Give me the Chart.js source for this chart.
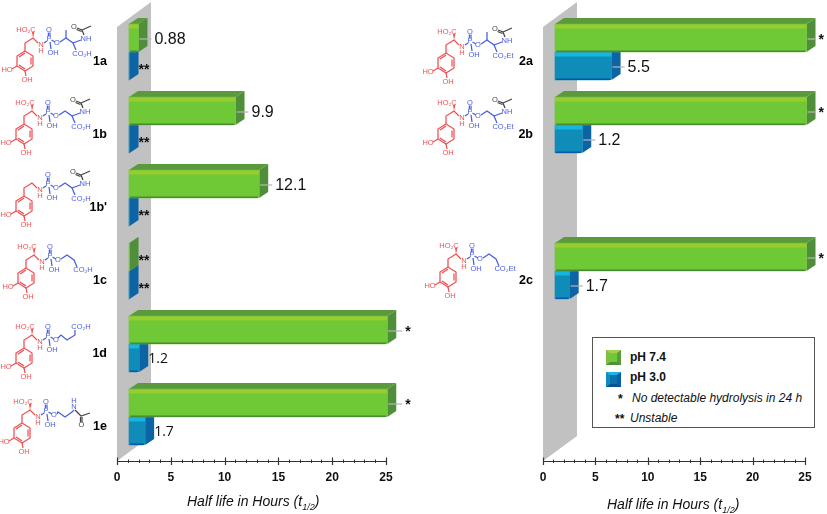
<!DOCTYPE html>
<html>
<head>
<meta charset="utf-8">
<script src="https://cdn.jsdelivr.net/npm/chart.js@4"></script>
<style>
    html, body { margin: 0; padding: 0; background: #fff; }
    #page { position: relative; width: 827px; height: 514px; overflow: hidden; font-family: "Liberation Sans", Arial, sans-serif; }
    canvas { position: absolute; left: 0; top: 0; }
    .axisTitle { position: absolute; font-style: italic; font-size: 14px; color: #111; white-space: nowrap; }
    .axisTitle sub { font-size: 9px; line-height: 0; }
    #legendBox { position: absolute; left: 592px; top: 337px; width: 221px; height: 89px; border: 1.5px solid #555; background: #fff; }
    .note { position: absolute; font-size: 12px; color: #111; white-space: nowrap; line-height: 14px; }
    .swatch { position: absolute; box-sizing: border-box; width: 15px; height: 15px; border-style: solid; border-width: 3px 4px 3px 4px; }
</style>
</head>
<body>
<div id="page">
    <canvas id="chartLeft" width="827" height="514"></canvas>
    <canvas id="chartRight" width="827" height="514"></canvas>

    <div class="axisTitle" style="left:187px; top:493px;">Half life in Hours (t<sub>1/2</sub>)</div>
    <div class="axisTitle" style="left:607px; top:496px;">Half life in Hours (t<sub>1/2</sub>)</div>

    <div id="legendBox"></div>
    <div class="swatch" style="left:606px; top:350px; background:#6fc836; border-color:#a5d24e #5c9c3c #4f9038 #7fbf45;"></div>
    <div class="swatch" style="left:606px; top:372px; background:#0b6fb0; border-color:#19b6e2 #0a5ea8 #07528f #0f8cb8;"></div>
    <div class="note" style="left:630px; top:350px; font-weight:bold;">pH 7.4</div>
    <div class="note" style="left:630px; top:370px; font-weight:bold;">pH 3.0</div>
    <div class="note" style="left:618px; top:392px; font-weight:bold;">*</div>
    <div class="note" style="left:632px; top:391px; font-style:italic;">No detectable hydrolysis in 24 h</div>
    <div class="note" style="left:615px; top:412px; font-weight:bold;">**</div>
    <div class="note" style="left:630px; top:411px; font-style:italic;">Unstable</div>
</div>

<script>
const compounds1 = ['1a', '1b', "1b'", '1c', '1d', '1e'];
const rows1 = [1, 2, 3, 4, 5, 6];
const ph74Bars1 = [0.88, 9.9, 12.1, 0.05, 24, 24];
const ph30Bars1 = [0.05, 0.05, 0.05, 0.05, 0.95, 1.5];
const ph74Labels1 = ['0.88', '9.9', '12.1', '**', '*', '*'];
const ph30Labels1 = ['**', '**', '**', '**', '1.2', '1.7'];

const compounds2 = ['2a', '2b', '2c'];
const rows2 = [1, 2, 4];
const ph74Bars2 = [24, 24, 24];
const ph30Bars2 = [5.4, 2.6, 1.4];
const ph74Labels2 = ['*', '*', '*'];
const ph30Labels2 = ['5.5', '1.2', '1.7'];

const seriesNames = ['pH 7.4', 'pH 3.0'];

// drawing of each molecule: where it sits and which tail it has
const molecules1 = [
    { dx: 0, dy: 0, tail: 'methylAcetamide', ester: 'CO\u2082H', acid: true },
    { dx: -1, dy: 73, tail: 'acetamide', ester: 'CO\u2082H', acid: true },
    { dx: -1, dy: 145, tail: 'acetamide', ester: 'CO\u2082H', acid: false },
    { dx: 1, dy: 217, tail: 'shortAcid', ester: 'CO\u2082H', acid: true },
    { dx: -1, dy: 297, tail: 'longAcid', ester: 'CO\u2082H', acid: true },
    { dx: -3, dy: 372, tail: 'ethylAcetamide', ester: '', acid: true }
];
const molecules2 = [
    { dx: 421, dy: 2, tail: 'methylAcetamide', ester: 'CO\u2082Et', acid: true },
    { dx: 421, dy: 73, tail: 'acetamide', ester: 'CO\u2082Et', acid: true },
    { dx: 423, dy: 216, tail: 'shortAcid', ester: 'CO\u2082Et', acid: true }
];

const RED = '#f04f52';
const BLUE = '#4a5de0';
const GREY = '#444444';

const GREEN_STYLE = { front: '#6fc836', strip: '#98cc30', top: '#5a9a3c', side: '#508f39', edge: '#4a8a36' };
const BLUE_STYLE = { front: '#0f8cb8', strip: '#15b6e2', top: '#0b6fb8', side: '#0d64a4', edge: '#0758a8' };

const DEPTH_X = 9;
const DEPTH_Y = 6;

function line(ctx, points, color) {
    ctx.strokeStyle = color;
    ctx.lineWidth = 1.25;
    ctx.beginPath();
    ctx.moveTo(points[0][0], points[0][1]);
    for (let i = 1; i < points.length; i++) {
        ctx.lineTo(points[i][0], points[i][1]);
    }
    ctx.stroke();
}

function polygon(ctx, points, color) {
    ctx.fillStyle = color;
    ctx.beginPath();
    ctx.moveTo(points[0][0], points[0][1]);
    for (let i = 1; i < points.length; i++) {
        ctx.lineTo(points[i][0], points[i][1]);
    }
    ctx.closePath();
    ctx.fill();
}

function atom(ctx, text, x, y, color) {
    ctx.fillStyle = color;
    ctx.font = '7.5px "Liberation Sans", Arial, sans-serif';
    ctx.textAlign = 'center';
    ctx.textBaseline = 'middle';
    ctx.fillText(text, x, y);
}

function drawAcetylFrom(ctx, nx, ny) {
    line(ctx, [[nx - 1, ny - 4], [82, 30], [91, 26]], GREY);
    line(ctx, [[82, 30], [77, 28]], GREY);
    line(ctx, [[81.5, 31.5], [76.5, 29.5]], GREY);
    atom(ctx, 'O', 74, 27, GREY);
}

function drawTail(ctx, molecule) {
    const tail = molecule.tail;
    if (tail == 'methylAcetamide' || tail == 'acetamide') {
        line(ctx, [[60, 42], [66, 38], [73, 43], [76, 50]], BLUE);
        line(ctx, [[73, 43], [81, 40]], BLUE);
        if (tail == 'methylAcetamide') {
            line(ctx, [[66, 38], [66, 30]], BLUE);
        }
        atom(ctx, 'NH', 86, 39, BLUE);
        atom(ctx, molecule.ester, 82, 54, BLUE);
        drawAcetylFrom(ctx, 85, 39);
    }
    else if (tail == 'shortAcid') {
        line(ctx, [[60, 42], [66, 38], [73, 43], [76, 50]], BLUE);
        atom(ctx, molecule.ester, 82, 53, BLUE);
    }
    else if (tail == 'longAcid') {
        line(ctx, [[59, 41], [62, 38], [68, 43], [76, 38], [76, 33]], BLUE);
        atom(ctx, molecule.ester, 82, 30, BLUE);
    }
    else if (tail == 'ethylAcetamide') {
        line(ctx, [[60, 42], [61, 40], [68, 45], [75, 40], [77, 38]], BLUE);
        atom(ctx, 'N', 77, 35, BLUE);
        atom(ctx, 'H', 77, 29, BLUE);
        line(ctx, [[78, 38], [84, 44], [93, 41]], GREY);
        line(ctx, [[83.5, 45], [83.5, 50]], GREY);
        line(ctx, [[85, 45], [85, 50]], GREY);
        atom(ctx, 'O', 84.5, 53, GREY);
    }
}

function drawMolecule(ctx, molecule) {
    ctx.save();
    ctx.translate(molecule.dx, molecule.dy);

    // catechol ring
    const ring = [[25, 51], [33, 56], [33, 66], [25, 71], [17, 66], [17, 56]];
    line(ctx, ring.concat([ring[0]]), RED);
    line(ctx, [[31, 57.5], [31, 64.5]], RED);
    line(ctx, [[25, 69], [19, 65]], RED);
    line(ctx, [[19, 57], [25, 53]], RED);
    line(ctx, [[17, 66], [12, 69]], RED);
    line(ctx, [[25, 71], [26, 76]], RED);
    atom(ctx, 'HO', 7, 70, RED);
    atom(ctx, 'OH', 27, 80, RED);

    // side chain up to the nitrogen
    line(ctx, [[25, 51], [25, 43], [33, 38], [38, 43]], RED);
    if (molecule.acid) {
        polygon(ctx, [[33, 38], [32, 32], [34.4, 32]], RED);
        atom(ctx, 'HO\u2082C', 26, 30, RED);
    }
    atom(ctx, 'N', 41, 45, RED);
    atom(ctx, 'H', 41, 51, RED);

    // phosphoramidate
    line(ctx, [[44, 43], [47, 41]], BLUE);
    line(ctx, [[48.4, 36], [48.4, 32.5]], BLUE);
    line(ctx, [[50, 36], [50, 32.5]], BLUE);
    line(ctx, [[50, 42], [51, 49]], BLUE);
    line(ctx, [[51.5, 40], [55, 42]], BLUE);
    atom(ctx, 'P', 49, 39, BLUE);
    atom(ctx, 'O', 49, 30, BLUE);
    atom(ctx, 'OH', 53, 53, BLUE);
    atom(ctx, 'O', 57, 43, BLUE);

    drawTail(ctx, molecule);
    ctx.restore();
}

function drawWall(chart) {
    const ctx = chart.ctx;
    const axis = chart.scales.x;
    const left = axis.left;
    const bottom = axis.top;
    const right = left + 34;
    polygon(ctx, [[left, 27], [right, 2], [right, bottom - 25], [left, bottom]], '#c1c1c1');
}

function drawAxisTicks(chart) {
    const ctx = chart.ctx;
    const axis = chart.scales.x;
    ctx.strokeStyle = '#333';
    for (let i = 0; i < axis.ticks.length; i++) {
        const px = Math.round(axis.getPixelForTick(i)) + 0.5;
        const size = axis.ticks[i].value % 5 == 0 ? 3.5 : 1.5;
        ctx.lineWidth = axis.ticks[i].value % 5 == 0 ? 1.2 : 1;
        ctx.beginPath();
        ctx.moveTo(px, axis.top - size);
        ctx.lineTo(px, axis.top + size + 0.5);
        ctx.stroke();
    }
}

function depthFaces(ctx, bar, style) {
    const top = bar.y - bar.height / 2;
    const bottom = bar.y + bar.height / 2;
    polygon(ctx, [[bar.base, top], [bar.base + DEPTH_X, top - DEPTH_Y], [bar.x + DEPTH_X, top - DEPTH_Y], [bar.x, top]], style.top);
    polygon(ctx, [[bar.x, top], [bar.x + DEPTH_X, top - DEPTH_Y], [bar.x + DEPTH_X, bottom - DEPTH_Y], [bar.x, bottom]], style.side);
}

function frontShading(ctx, bar, style) {
    const top = bar.y - bar.height / 2;
    const bottom = bar.y + bar.height / 2;
    const width = bar.x - bar.base;
    if (width < 3) {
        return;
    }
    ctx.fillStyle = style.strip;
    ctx.fillRect(bar.base, top + 0.5, width, 4);
    ctx.fillStyle = style.edge;
    ctx.fillRect(bar.base + 1, bottom - 1.5, width - 2, 1.5);
}

function drawBarLabel(ctx, bar, text, seriesIndex, panelLeft) {
    const small = panelLeft && seriesIndex == 1 && text.indexOf('*') < 0;
    let x;
    let y = bar.y;
    ctx.fillStyle = '#111';
    ctx.textAlign = 'left';
    ctx.textBaseline = 'middle';

    if (text == '**') {
        ctx.font = 'bold 14px "Liberation Sans", Arial, sans-serif';
        x = bar.x + 9;
        y += 4;
    }
    else if (text == '*') {
        ctx.font = 'bold 14px "Liberation Sans", Arial, sans-serif';
        x = bar.x + (panelLeft ? 18 : 12);
        y += 2;
    }
    else if (small) {
        ctx.font = '14px "Open Sans", "Liberation Sans", sans-serif';
        x = bar.x + 9;
        y += 1;
    }
    else {
        ctx.font = '16px "Liberation Sans", Arial, sans-serif';
        x = bar.x + 16;
        y += 2;
    }

    if (text != '**' && !small) {
        line(ctx, [[bar.x + 1, y - 1], [x - 3, y - 1]], '#b5b5b5');
    }
    ctx.fillStyle = '#111';
    ctx.fillText(text, x, y);
}

function createPanel(canvasId, compounds, rows, ph74Bars, ph30Bars, ph74Labels, ph30Labels, molecules, area) {
    const scaleWidth = (area.right - area.left) / 25;
    const barZero = -area.barStart / scaleWidth;

    const extras = {
        id: 'panelExtras',
        beforeDatasetsDraw(chart) {
            drawWall(chart);
        },
        beforeDatasetDraw(chart, args) {
            const meta = args.meta;
            const style = args.index == 0 ? GREEN_STYLE : BLUE_STYLE;
            meta.data.forEach((bar) => depthFaces(chart.ctx, bar, style));
        },
        afterDatasetDraw(chart, args) {
            const style = args.index == 0 ? GREEN_STYLE : BLUE_STYLE;
            args.meta.data.forEach((bar) => frontShading(chart.ctx, bar, style));
        },
        afterDatasetsDraw(chart) {
            const ctx = chart.ctx;
            chart.getDatasetMeta(0).data.forEach((bar, i) => drawBarLabel(ctx, bar, ph74Labels[i], 0, area.left < 300));
            chart.getDatasetMeta(1).data.forEach((bar, i) => drawBarLabel(ctx, bar, ph30Labels[i], 1, area.left < 300));

            drawAxisTicks(chart);

            molecules.forEach((molecule) => drawMolecule(ctx, molecule));

            ctx.fillStyle = '#000';
            ctx.font = 'bold 12.5px "Liberation Sans", Arial, sans-serif';
            ctx.textAlign = 'right';
            ctx.textBaseline = 'middle';
            compounds.forEach((name, i) => {
                ctx.fillText(name, area.labelRight, chart.scales.y.getPixelForValue(rows[i]) + 10);
            });
        }
    };

    return new Chart(document.getElementById(canvasId), {
        type: 'bar',
        data: {
            datasets: [
                {
                    label: seriesNames[0],
                    data: rows.map((row, i) => ({ x: ph74Bars[i], y: row })),
                    backgroundColor: GREEN_STYLE.front,
                    borderRadius: { bottomLeft: 2, bottomRight: 3 },
                    xAxisID: 'xBar',
                    yAxisID: 'y',
                    barThickness: 28,
                    clip: false
                },
                {
                    label: seriesNames[1],
                    data: rows.map((row, i) => ({ x: ph30Bars[i], y: row })),
                    backgroundColor: BLUE_STYLE.front,
                    borderRadius: { bottomLeft: 2, bottomRight: 3 },
                    xAxisID: 'xBar',
                    yAxisID: 'y',
                    barThickness: 28,
                    clip: false
                }
            ]
        },
        options: {
            indexAxis: 'y',
            responsive: false,
            animation: false,
            layout: {
                padding: { left: area.left, right: 827 - area.right, top: 15, bottom: 23 }
            },
            plugins: {
                legend: { display: false },
                tooltip: { enabled: false }
            },
            scales: {
                x: {
                    type: 'linear',
                    position: 'bottom',
                    min: 0,
                    max: 25,
                    afterFit(scale) { scale.height = 30; },
                    grid: { drawOnChartArea: false, drawTicks: false },
                    border: { color: '#333', width: 1 },
                    ticks: {
                        stepSize: 1,
                        autoSkip: false,
                        maxRotation: 0,
                        padding: 9,
                        color: '#111',
                        font: { family: '"Liberation Sans", Arial, sans-serif', size: 12, weight: 'bold' },
                        callback: (value) => (value % 5 == 0 ? String(value) : '')
                    }
                },
                xBar: {
                    type: 'linear',
                    axis: 'x',
                    display: false,
                    min: barZero,
                    max: barZero + 25
                },
                y: {
                    type: 'linear',
                    display: false,
                    reverse: true,
                    offset: false,
                    min: 0.493,
                    max: 6.603
                }
            }
        },
        plugins: [extras]
    });
}

createPanel('chartLeft', compounds1, rows1, ph74Bars1, ph30Bars1, ph74Labels1, ph30Labels1, molecules1,
    { left: 117, right: 386, barStart: 12, labelRight: 107 });
createPanel('chartRight', compounds2, rows2, ph74Bars2, ph30Bars2, ph74Labels2, ph30Labels2, molecules2,
    { left: 543, right: 805, barStart: 12, labelRight: 533 });
</script>
</body>
</html>
